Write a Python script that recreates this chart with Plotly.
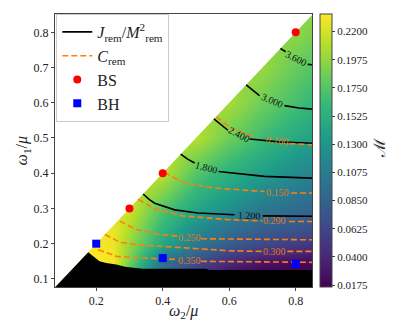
import plotly.graph_objects as go

# grid of the mass M (rows follow w1_grid, columns w2_grid)
w2_grid = [0.076, 0.15, 0.2, 0.25, 0.3, 0.4, 0.5, 0.6, 0.7, 0.8, 0.85]
w1_grid = [0.076, 0.12, 0.15, 0.2, 0.25, 0.3, 0.4, 0.5, 0.6, 0.7, 0.8, 0.85]
M_grid = [
    [0.234, 0.234, 0.234, 0.234, 0.170, 0.090, 0.050, 0.025, 0.018, 0.016, 0.016],
    [0.234, 0.234, 0.234, 0.234, 0.170, 0.090, 0.050, 0.025, 0.018, 0.016, 0.016],
    [0.234, 0.234, 0.234, 0.232, 0.190, 0.100, 0.070, 0.045, 0.030, 0.024, 0.022],
    [0.234, 0.234, 0.234, 0.228, 0.200, 0.145, 0.105, 0.080, 0.065, 0.055, 0.052],
    [0.232, 0.232, 0.232, 0.228, 0.210, 0.160, 0.125, 0.100, 0.085, 0.076, 0.073],
    [0.225, 0.225, 0.225, 0.225, 0.220, 0.175, 0.145, 0.125, 0.105, 0.092, 0.088],
    [0.215, 0.215, 0.215, 0.215, 0.215, 0.213, 0.175, 0.155, 0.137, 0.120, 0.115],
    [0.210, 0.210, 0.210, 0.210, 0.210, 0.210, 0.210, 0.185, 0.165, 0.147, 0.140],
    [0.205, 0.205, 0.205, 0.205, 0.205, 0.205, 0.205, 0.205, 0.185, 0.168, 0.160],
    [0.200, 0.200, 0.200, 0.200, 0.200, 0.200, 0.200, 0.200, 0.200, 0.182, 0.175],
    [0.197, 0.197, 0.197, 0.197, 0.197, 0.197, 0.197, 0.197, 0.197, 0.197, 0.190],
    [0.196, 0.196, 0.196, 0.196, 0.196, 0.196, 0.196, 0.196, 0.196, 0.196, 0.196],
]
cbar_ticks = [0.0175, 0.0400, 0.0625, 0.0850, 0.1075, 0.1300, 0.1525, 0.1750, 0.1975, 0.2200]

# region with no solutions (black) and the region w1 > w2 (white)
black_w2 = [0.076, 0.176, 0.19, 0.20, 0.21, 0.23, 0.26, 0.29, 0.34, 0.53, 0.54, 0.85, 0.85]
black_w1 = [0.076, 0.176, 0.165, 0.158, 0.150, 0.145, 0.141, 0.134, 0.129, 0.129, 0.125, 0.125, 0.076]
mask_w2 = [0.0, 0.0, 1.0]
mask_w1 = [0.0, 1.0, 1.0]

# J_rem / M_rem^2 contours
j_120_w2 = [0.341, 0.360, 0.376, 0.436, 0.506, 0.616, None, 0.701, 0.849]
j_120_w1 = [0.341, 0.325, 0.315, 0.296, 0.287, 0.282, None, 0.279, 0.278]
j_180_w2 = [0.454, 0.475, 0.496, None, 0.568, 0.706, 0.849]
j_180_w1 = [0.454, 0.440, 0.429, None, 0.405, 0.391, 0.386]
j_240_w2 = [0.554, 0.575, 0.596, None, 0.661, 0.750, 0.849]
j_240_w1 = [0.554, 0.537, 0.522, None, 0.497, 0.489, 0.485]
j_300_w2 = [0.651, 0.691, None, 0.766, 0.810, 0.849]
j_300_w1 = [0.651, 0.620, None, 0.592, 0.585, 0.582]
j_360_w2 = [0.754, 0.770, None, 0.836, 0.849]
j_360_w1 = [0.754, 0.745, None, 0.709, 0.708]
j_labels = ["1.200", "1.800", "2.400", "3.000", "3.600"]
j_label_w2 = [0.660, 0.532, 0.630, 0.729, 0.802]
j_label_w1 = [0.281, 0.415, 0.511, 0.606, 0.727]
j_label_angle = [2, 15, 28, 24, 27]

# C_rem contours
c_100_w2 = [0.561, 0.606, 0.676, None, 0.781, 0.849]
c_100_w1 = [0.560, 0.528, 0.503, None, 0.484, 0.481]
c_150_w2 = [0.405, 0.466, 0.556, 0.706, None, 0.786, 0.849]
c_150_w1 = [0.402, 0.372, 0.358, 0.348, None, 0.344, 0.344]
c_200_w2 = [0.326, 0.380, 0.460, 0.600, 0.700, None, 0.780, 0.849]
c_200_w1 = [0.326, 0.297, 0.279, 0.268, 0.265, None, 0.263, 0.263]
c_250_w2 = [0.271, 0.321, 0.391, 0.448, None, 0.515, 0.650, 0.849]
c_250_w1 = [0.264, 0.240, 0.226, 0.221, None, 0.214, 0.212, 0.211]
c_300_w2 = [0.226, 0.271, 0.321, 0.391, 0.461, 0.600, 0.700, None, 0.775, 0.849]
c_300_w1 = [0.226, 0.204, 0.197, 0.193, 0.188, 0.180, 0.178, None, 0.178, 0.178]
c_350_w2 = [0.206, 0.261, 0.321, 0.381, 0.445, None, 0.515, 0.700, 0.849]
c_350_w1 = [0.183, 0.164, 0.160, 0.157, 0.155, None, 0.150, 0.148, 0.147]
c_labels = ["0.100", "0.150", "0.200", "0.250", "0.300", "0.350"]
c_label_w2 = [0.746, 0.746, 0.737, 0.480, 0.737, 0.480]
c_label_w1 = [0.494, 0.344, 0.266, 0.218, 0.179, 0.152]
c_label_angle = [8, 0, 0, 0, 0, 0]

# marked solutions
bs_w2 = [0.3, 0.4, 0.8]
bs_w1 = [0.3, 0.4, 0.8]
bh_w2 = [0.2, 0.4, 0.8]
bh_w1 = [0.2, 0.159, 0.143]

SERIF = "Liberation Serif"
ORANGE = "#ff7f0e"


def join(curves):
    xs, ys = [], []
    for cx, cy in curves:
        xs += cx + [None]
        ys += cy + [None]
    return xs, ys


fig = go.Figure()

fig.add_trace(go.Heatmap(
    x=w2_grid, y=w1_grid, z=M_grid,
    zsmooth="best", colorscale="Viridis", zmin=0.016, zmax=0.234,
    showscale=True,
    colorbar=dict(
        x=1.031, xanchor="left", xpad=0, y=0.5, yanchor="middle", ypad=0,
        len=1.0, thickness=12, outlinewidth=1, outlinecolor="#444",
        ticks="outside", ticklen=3, tickcolor="#444",
        tickvals=cbar_ticks, ticktext=[f"{v:.4f}" for v in cbar_ticks],
        tickfont=dict(family=SERIF, size=11, color="#222"),
    ),
    hoverinfo="skip", showlegend=False,
))

fig.add_trace(go.Scatter(x=mask_w2, y=mask_w1, mode="lines", fill="toself",
                         fillcolor="white", line=dict(width=0), showlegend=False,
                         hoverinfo="skip"))
fig.add_trace(go.Scatter(x=black_w2, y=black_w1, mode="lines", fill="toself",
                         fillcolor="black", line=dict(width=0, color="black"),
                         showlegend=False, hoverinfo="skip"))

jx, jy = join([(j_120_w2, j_120_w1), (j_180_w2, j_180_w1), (j_240_w2, j_240_w1),
               (j_300_w2, j_300_w1), (j_360_w2, j_360_w1)])
cx, cy = join([(c_100_w2, c_100_w1), (c_150_w2, c_150_w1), (c_200_w2, c_200_w1),
               (c_250_w2, c_250_w1), (c_300_w2, c_300_w1), (c_350_w2, c_350_w1)])

fig.add_trace(go.Scatter(
    x=jx, y=jy, mode="lines", line=dict(color="black", width=1.6),
    name="<i>J</i><sub>rem</sub>/<i>M</i><sup>2</sup><sub>rem</sub>", legendgroup="j",
))
fig.add_trace(go.Scatter(
    x=cx, y=cy, mode="lines", line=dict(color=ORANGE, width=1.6, dash="6px,3px"),
    name="<i>C</i><sub>rem</sub>", legendgroup="c",
))
fig.add_trace(go.Scatter(
    x=bs_w2, y=bs_w1, mode="markers", name="BS", legendgroup="bs",
    marker=dict(color="red", size=8, symbol="circle"), cliponaxis=False,
))
fig.add_trace(go.Scatter(
    x=bh_w2, y=bh_w1, mode="markers", name="BH", legendgroup="bh",
    marker=dict(color="blue", size=8, symbol="square"), cliponaxis=False,
))

for txt, x, y, a in zip(j_labels, j_label_w2, j_label_w1, j_label_angle):
    fig.add_annotation(x=x, y=y, text=txt, showarrow=False, textangle=a,
                       font=dict(family=SERIF, size=10, color="#111"))
for txt, x, y, a in zip(c_labels, c_label_w2, c_label_w1, c_label_angle):
    fig.add_annotation(x=x, y=y, text=txt, showarrow=False, textangle=a,
                       font=dict(family=SERIF, size=10, color="#e0771a"))

# axis titles and colour bar label
fig.add_annotation(xref="paper", yref="paper", x=0.5, y=-0.09, yanchor="middle",
                   text="<i>ω</i><sub>2</sub>/<i>μ</i>", showarrow=False,
                   font=dict(family=SERIF, size=16, color="#222"))
fig.add_annotation(xref="paper", yref="paper", x=-0.125, y=0.5, xanchor="center",
                   text="<i>ω</i><sub>1</sub>/<i>μ</i>", showarrow=False, textangle=-90,
                   font=dict(family=SERIF, size=16, color="#222"))
fig.add_annotation(xref="paper", yref="paper", x=1.31, y=0.51, text="ℳ",
                   showarrow=False, textangle=-90,
                   font=dict(family="DejaVu Serif", size=16, color="#222"))

fig.update_layout(
    width=407, height=323,
    margin=dict(l=47, r=103, t=6, b=44),
    plot_bgcolor="white", paper_bgcolor="white",
    font=dict(family=SERIF, size=12, color="#222"),
    legend=dict(
        x=0.005, y=1.0, xanchor="left", yanchor="top",
        bgcolor="white", bordercolor="#ccc", borderwidth=1,
        tracegroupgap=0,
        font=dict(family=SERIF, size=16, color="#222"),
    ),
)

fig.update_xaxes(
    range=[0.076, 0.849], tickvals=[0.2, 0.4, 0.6, 0.8],
    showgrid=False, zeroline=False, showline=True, mirror=True,
    linecolor="#444", linewidth=1, ticks="outside", ticklen=3, tickcolor="#444",
    tickfont=dict(family=SERIF, size=12),
)
fig.update_yaxes(
    range=[0.077, 0.852], tickvals=[0.1, 0.2, 0.3, 0.4, 0.5, 0.6, 0.7, 0.8],
    showgrid=False, zeroline=False, showline=True, mirror=True,
    linecolor="#444", linewidth=1, ticks="outside", ticklen=3, tickcolor="#444",
    tickfont=dict(family=SERIF, size=12),
)

fig.write_html("out.html")
